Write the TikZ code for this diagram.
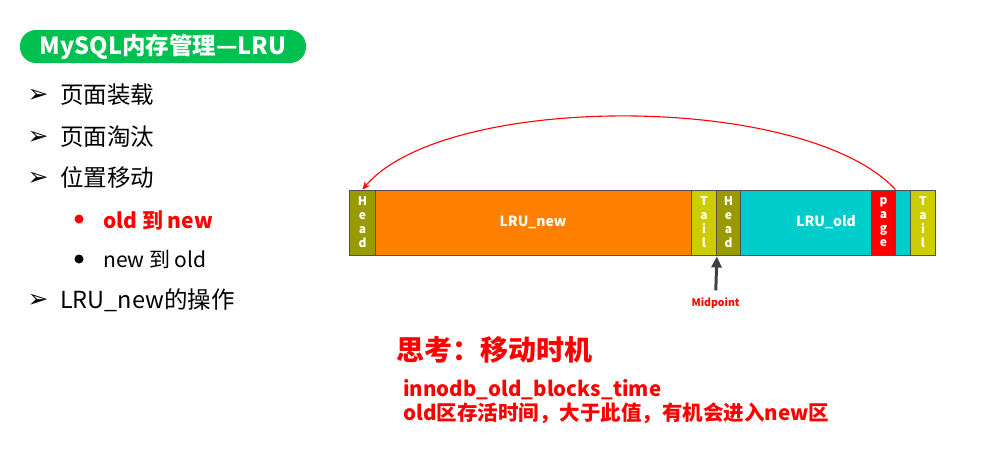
\documentclass[tikz,border=0pt]{standalone}
\usepackage{fontspec}
\setmainfont{Noto Sans CJK SC}
\newfontfamily\dejavu{DejaVu Sans}
\usetikzlibrary{arrows.meta}
\definecolor{pillgreen}{RGB}{0,192,80}
\definecolor{olivec}{RGB}{153,153,0}
\definecolor{tailc}{RGB}{204,204,0}
\definecolor{orangec}{RGB}{255,128,0}
\definecolor{cyanc}{RGB}{0,204,204}
\definecolor{redc}{RGB}{255,0,0}
\definecolor{edgec}{RGB}{80,80,80}
\tikzset{
  seg/.style={draw=edgec, line width=0.9pt, minimum height=65pt, inner sep=0pt, anchor=west},
  vlab/.style={text=white, font=\fontsize{12}{14}\selectfont\bfseries, align=center},
  bigl/.style={text=white, font=\fontsize{14}{16}\selectfont\bfseries},
  item/.style={anchor=west, font=\fontsize{23.5}{26}\selectfont, inner sep=0pt},
  subitem/.style={anchor=west, font=\fontsize{21}{24}\selectfont, inner sep=0pt},
  bmark/.style={font=\dejavu\fontsize{25}{26}\selectfont, inner sep=0pt},
  bdot/.style={circle, inner sep=0pt, minimum size=9pt},
  redtxt/.style={anchor=west, text=redc, font=\fontsize{20.5}{24}\selectfont\bfseries, inner sep=0pt},
}
\begin{document}
\begin{tikzpicture}[x=1pt,y=-1pt]
\useasboundingbox[fill=white] (0,0) rectangle (983,461);
% title pill
\node[fill=pillgreen, rounded corners=16pt, minimum width=286pt, minimum height=33pt, inner sep=0pt,
  text=white, font=\fontsize{23.5}{26}\selectfont\bfseries] (title) at (163,46.5) {MySQL内存管理—LRU};
% bullets
\node[bmark] (m1) at (38,96) {➢};
\node[item] (b1) at (60,95) {页面装载};
\node[bmark] (m2) at (38,138) {➢};
\node[item] (b2) at (60,137) {页面淘汰};
\node[bmark] (m3) at (38,179) {➢};
\node[item] (b3) at (60,178) {位置移动};
\node[bdot, fill=redc] (d1) at (79,219) {};
\node[subitem, text=redc, font=\fontsize{21}{24}\selectfont\bfseries] (s1) at (103,220) {old 到 new};
\node[bdot, fill=black] (d2) at (79,259) {};
\node[subitem] (s2) at (103,259) {new 到 old};
\node[bmark] (m4) at (38,301) {➢};
\node[item] (b4) at (60,300) {LRU\_new的操作};
% LRU bar
\node[seg, fill=olivec, minimum width=26pt] (h1) at (349,222.5) {};
\node[vlab] at (h1) {H\\e\\a\\d};
\node[seg, fill=orangec, minimum width=316pt] (new) at (375,222.5) {};
\node[bigl] at (533,222.5) {LRU\_new};
\node[seg, fill=tailc, minimum width=25pt] (t1) at (691,222.5) {};
\node[vlab] at (t1) {T\\a\\i\\l};
\node[seg, fill=olivec, minimum width=24pt] (h2) at (716,222.5) {};
\node[vlab] at (h2) {H\\e\\a\\d};
\node[seg, fill=cyanc, minimum width=131pt] (old) at (740,222.5) {};
\node[bigl] at (826,222.5) {LRU\_old};
\node[seg, fill=redc, minimum width=24pt] (page) at (871,222.5) {};
\node[vlab] at (page) {p\\a\\g\\e};
\node[seg, fill=cyanc, minimum width=15pt] (old2) at (895,222.5) {};
\node[seg, fill=tailc, minimum width=25pt] (t2) at (910,222.5) {};
\node[vlab] at (t2) {T\\a\\i\\l};
% move arc
\draw[redc, line width=1.1pt, -{Stealth[length=8pt,width=7pt]}]
  ([xshift=12pt]page.north) .. controls (805,92) and (445,92) .. (h1.north);
% midpoint
\node[text=redc, font=\fontsize{10.5}{12}\selectfont\bfseries, inner sep=1pt] (mid) at (715.6,303) {Midpoint};
\draw[edgec!80!black, line width=3pt, -{Triangle[length=11pt,width=10pt]}, shorten <=6pt, shorten >=1pt]
  (mid.north) -- (t1.south east);
% thinking
\node[anchor=west, text=redc, font=\fontsize{28}{30}\selectfont\bfseries, inner sep=0pt] (think) at (396,350) {思考：移动时机};
\node[redtxt] (p1) at (403,390) {innodb\_old\_blocks\_time};
\node[redtxt] (p2) at (403,413) {old区存活时间，大于此值，有机会进入new区};
\end{tikzpicture}
\end{document}
